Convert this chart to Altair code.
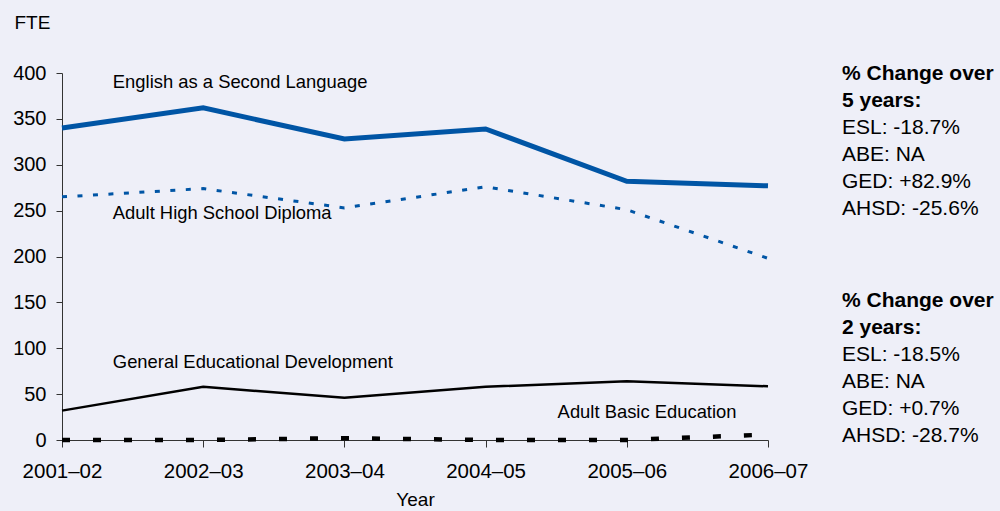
import altair as alt
import pandas as pd

years = ["2001–02", "2002–03", "2003–04", "2004–05", "2005–06", "2006–07"]
esl = [340, 362, 328, 339, 282, 277]
ahsd = [265, 274, 253, 276, 251, 198]
ged = [32, 58, 46, 58, 64, 58.5]
abe = [0, 0, 2, 0, 0, 6]

label_text = ["English as a Second Language", "Adult High School Diploma",
              "General Educational Development", "Adult Basic Education"]
label_x = [0.36, 0.36, 0.36, 3.51]
label_y = [390, 247, 85, 30.5]

side_bold = ["% Change over", "5 years:", "% Change over", "2 years:"]
side_bold_y = [1, 28, 228, 255]
side_norm = ["ESL: -18.7%", "ABE: NA", "GED: +82.9%", "AHSD: -25.6%",
             "ESL: -18.5%", "ABE: NA", "GED: +0.7%", "AHSD: -28.7%"]
side_norm_y = [55, 82, 109, 136, 282, 309, 336, 363]

BLUE = "#0055A5"
FONT = "Liberation Sans"

idx = list(range(len(years)))
label_expr = "[" + ",".join("'%s'" % y for y in years) + "][datum.value]"

xenc = alt.X("i:Q", scale=alt.Scale(domain=[0, 5], nice=False, zero=False),
             axis=alt.Axis(values=idx, labelExpr=label_expr, title="Year",
                           grid=False, tickSize=7, labelPadding=14,
                           labelFontSize=20.5, titleFontSize=19, titleFontWeight="normal",
                           titlePadding=9, labelFont=FONT, titleFont=FONT,
                           domainColor="#333333", tickColor="#333333",
                           labelColor="#000000", titleColor="#000000", labelFlush=False))
yenc = alt.Y("v:Q", scale=alt.Scale(domain=[0, 400], nice=False),
             axis=alt.Axis(values=list(range(0, 401, 50)), grid=False, title="FTE",
                           tickSize=6, labelPadding=10, labelFontSize=20,
                           titleFontSize=19, titleFontWeight="normal", titleAngle=0,
                           titleX=-48, titleY=-51, titleAlign="left", titleBaseline="middle",
                           labelFont=FONT, titleFont=FONT,
                           domainColor="#333333", tickColor="#333333",
                           labelColor="#000000", titleColor="#000000"))


def series(vals):
    return pd.DataFrame({"i": idx, "v": vals})


l_esl = alt.Chart(series(esl)).mark_line(color=BLUE, strokeWidth=5).encode(x=xenc, y=yenc)
l_ahsd = alt.Chart(series(ahsd)).mark_line(color=BLUE, strokeWidth=3, strokeDash=[5, 10.5]).encode(x="i:Q", y="v:Q")
l_ged = alt.Chart(series(ged)).mark_line(color="#000000", strokeWidth=2.5).encode(x="i:Q", y="v:Q")
l_abe = alt.Chart(series(abe)).mark_line(color="#000000", strokeWidth=4.5, strokeDash=[8, 23]).encode(x="i:Q", y="v:Q")

labels = alt.Chart(pd.DataFrame({"t": label_text, "i": label_x, "v": label_y})).mark_text(
    align="left", baseline="middle", fontSize=18.4, font=FONT, color="#000000"
).encode(x="i:Q", y="v:Q", text="t:N")

side_b = alt.Chart(pd.DataFrame({"t": side_bold, "py": side_bold_y})).mark_text(
    align="left", baseline="middle", fontSize=21, font=FONT, fontWeight="bold", color="#000000"
).encode(x=alt.value(780), y=alt.Y("py:Q", scale=None), text="t:N")

side_n = alt.Chart(pd.DataFrame({"t": side_norm, "py": side_norm_y})).mark_text(
    align="left", baseline="middle", fontSize=21, font=FONT, color="#000000"
).encode(x=alt.value(780), y=alt.Y("py:Q", scale=None), text="t:N")

chart = alt.layer(l_esl, l_ahsd, l_ged, l_abe, labels, side_b, side_n).properties(
    width=706, height=367,
    padding={"left": 62, "top": 73, "right": 232, "bottom": 71},
    autosize=alt.AutoSizeParams(type="none"),
    background="#EEEFF8",
).configure_view(stroke=None)

chart.save("out.html", embed_options={"renderer": "svg", "actions": False})
